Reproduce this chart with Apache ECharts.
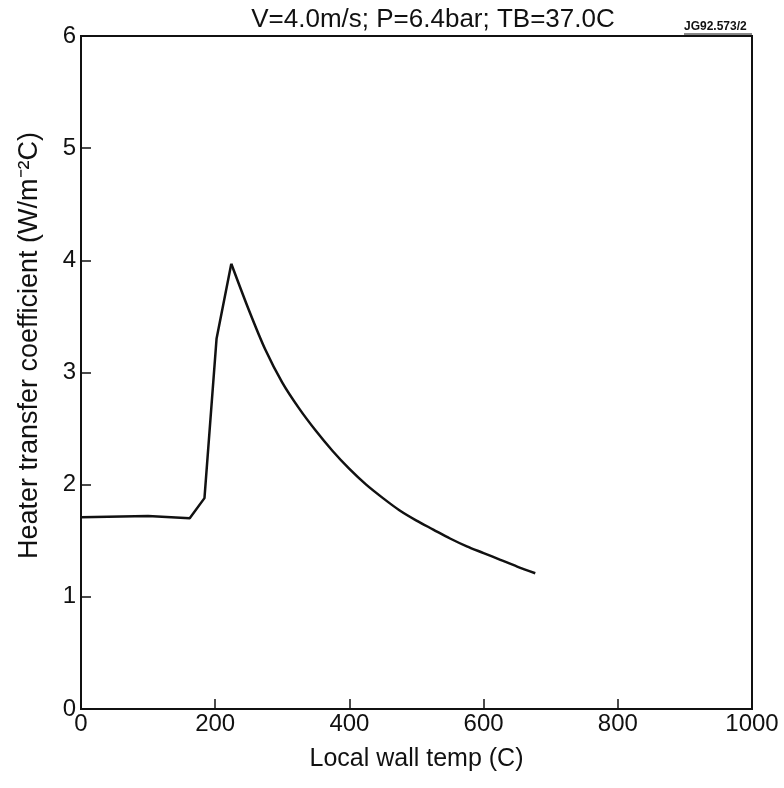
<!DOCTYPE html>
<html>
<head>
<meta charset="utf-8">
<script src="https://cdn.jsdelivr.net/npm/echarts@6/dist/echarts.min.js"></script>
<style>
  html, body { margin: 0; padding: 0; background: #fff; }
  #chart { width: 784px; height: 788px; }
</style>
</head>
<body>
<div id="chart"></div>
<script>
// rising part (straight segments)
var riseTemp = [0, 100, 162, 184, 202, 224];
var riseHtc = [1.71, 1.72, 1.70, 1.88, 3.30, 3.97];
// decaying part after the peak
var decayTemp = [224, 250, 275, 300, 325, 350, 375, 400, 425, 450, 475, 500, 525, 550, 575, 600, 625, 650, 677];
var decayHtc = [3.97, 3.56, 3.20, 2.91, 2.68, 2.48, 2.30, 2.14, 2.00, 1.88, 1.77, 1.68, 1.60, 1.52, 1.45, 1.39, 1.33, 1.27, 1.21];

var titleText = 'V=4.0m/s; P=6.4bar; TB=37.0C';
var refTag = 'JG92.573/2';

var chart = echarts.init(document.getElementById('chart'));
var font = 'Liberation Sans, Arial, sans-serif';

function pairs(xs, ys) {
  return xs.map(function (x, i) { return [x, ys[i]]; });
}

var option = {
  animation: false,
  backgroundColor: '#fff',
  title: {
    text: titleText,
    left: 428,
    textAlign: 'center',
    top: 2,
    textStyle: { fontFamily: font, fontSize: 26, fontWeight: 'normal', color: '#111' }
  },
  graphic: [{
    type: 'text',
    x: 684,
    y: 21,
    style: { text: refTag, font: 'bold 12px ' + font, fill: '#111' }
  }, {
    type: 'line',
    shape: { x1: 684, y1: 34, x2: 752, y2: 34 },
    style: { stroke: '#111', lineWidth: 1 }
  }],
  grid: {
    left: 81, right: 32, top: 36, bottom: 79,
    show: true, borderColor: '#111', borderWidth: 2
  },
  xAxis: {
    type: 'value',
    min: 0, max: 1000, interval: 200,
    name: 'Local wall temp (C)',
    nameLocation: 'middle',
    nameGap: 38,
    nameTextStyle: { fontFamily: font, fontSize: 25, color: '#111' },
    axisLine: { lineStyle: { color: '#111', width: 2 } },
    axisTick: { inside: true, length: 10, lineStyle: { color: '#111', width: 1.5 } },
    axisLabel: {
      fontFamily: font, fontSize: 24, color: '#111', margin: 3,
      formatter: function (v) { return String(v); }
    },
    splitLine: { show: false }
  },
  yAxis: {
    type: 'value',
    min: 0, max: 6, interval: 1,
    name: 'Heater transfer coefficient (W/m\u207B\u00B2C)',
    nameLocation: 'middle',
    nameGap: 38,
    nameTextStyle: { fontFamily: font, fontSize: 27, color: '#111', padding: [0, 0, 0, 54] },
    axisLine: { lineStyle: { color: '#111', width: 2 } },
    axisTick: { inside: true, length: 10, lineStyle: { color: '#111', width: 1.5 } },
    axisLabel: { fontFamily: font, fontSize: 24, color: '#111', margin: 5 },
    splitLine: { show: false }
  },
  series: [{
    type: 'line',
    data: pairs(riseTemp, riseHtc),
    showSymbol: false,
    lineStyle: { color: '#111', width: 2.5 }
  }, {
    type: 'line',
    data: pairs(decayTemp, decayHtc),
    smooth: 0.3,
    showSymbol: false,
    lineStyle: { color: '#111', width: 2.5 }
  }]
};

chart.setOption(option);
</script>
</body>
</html>
